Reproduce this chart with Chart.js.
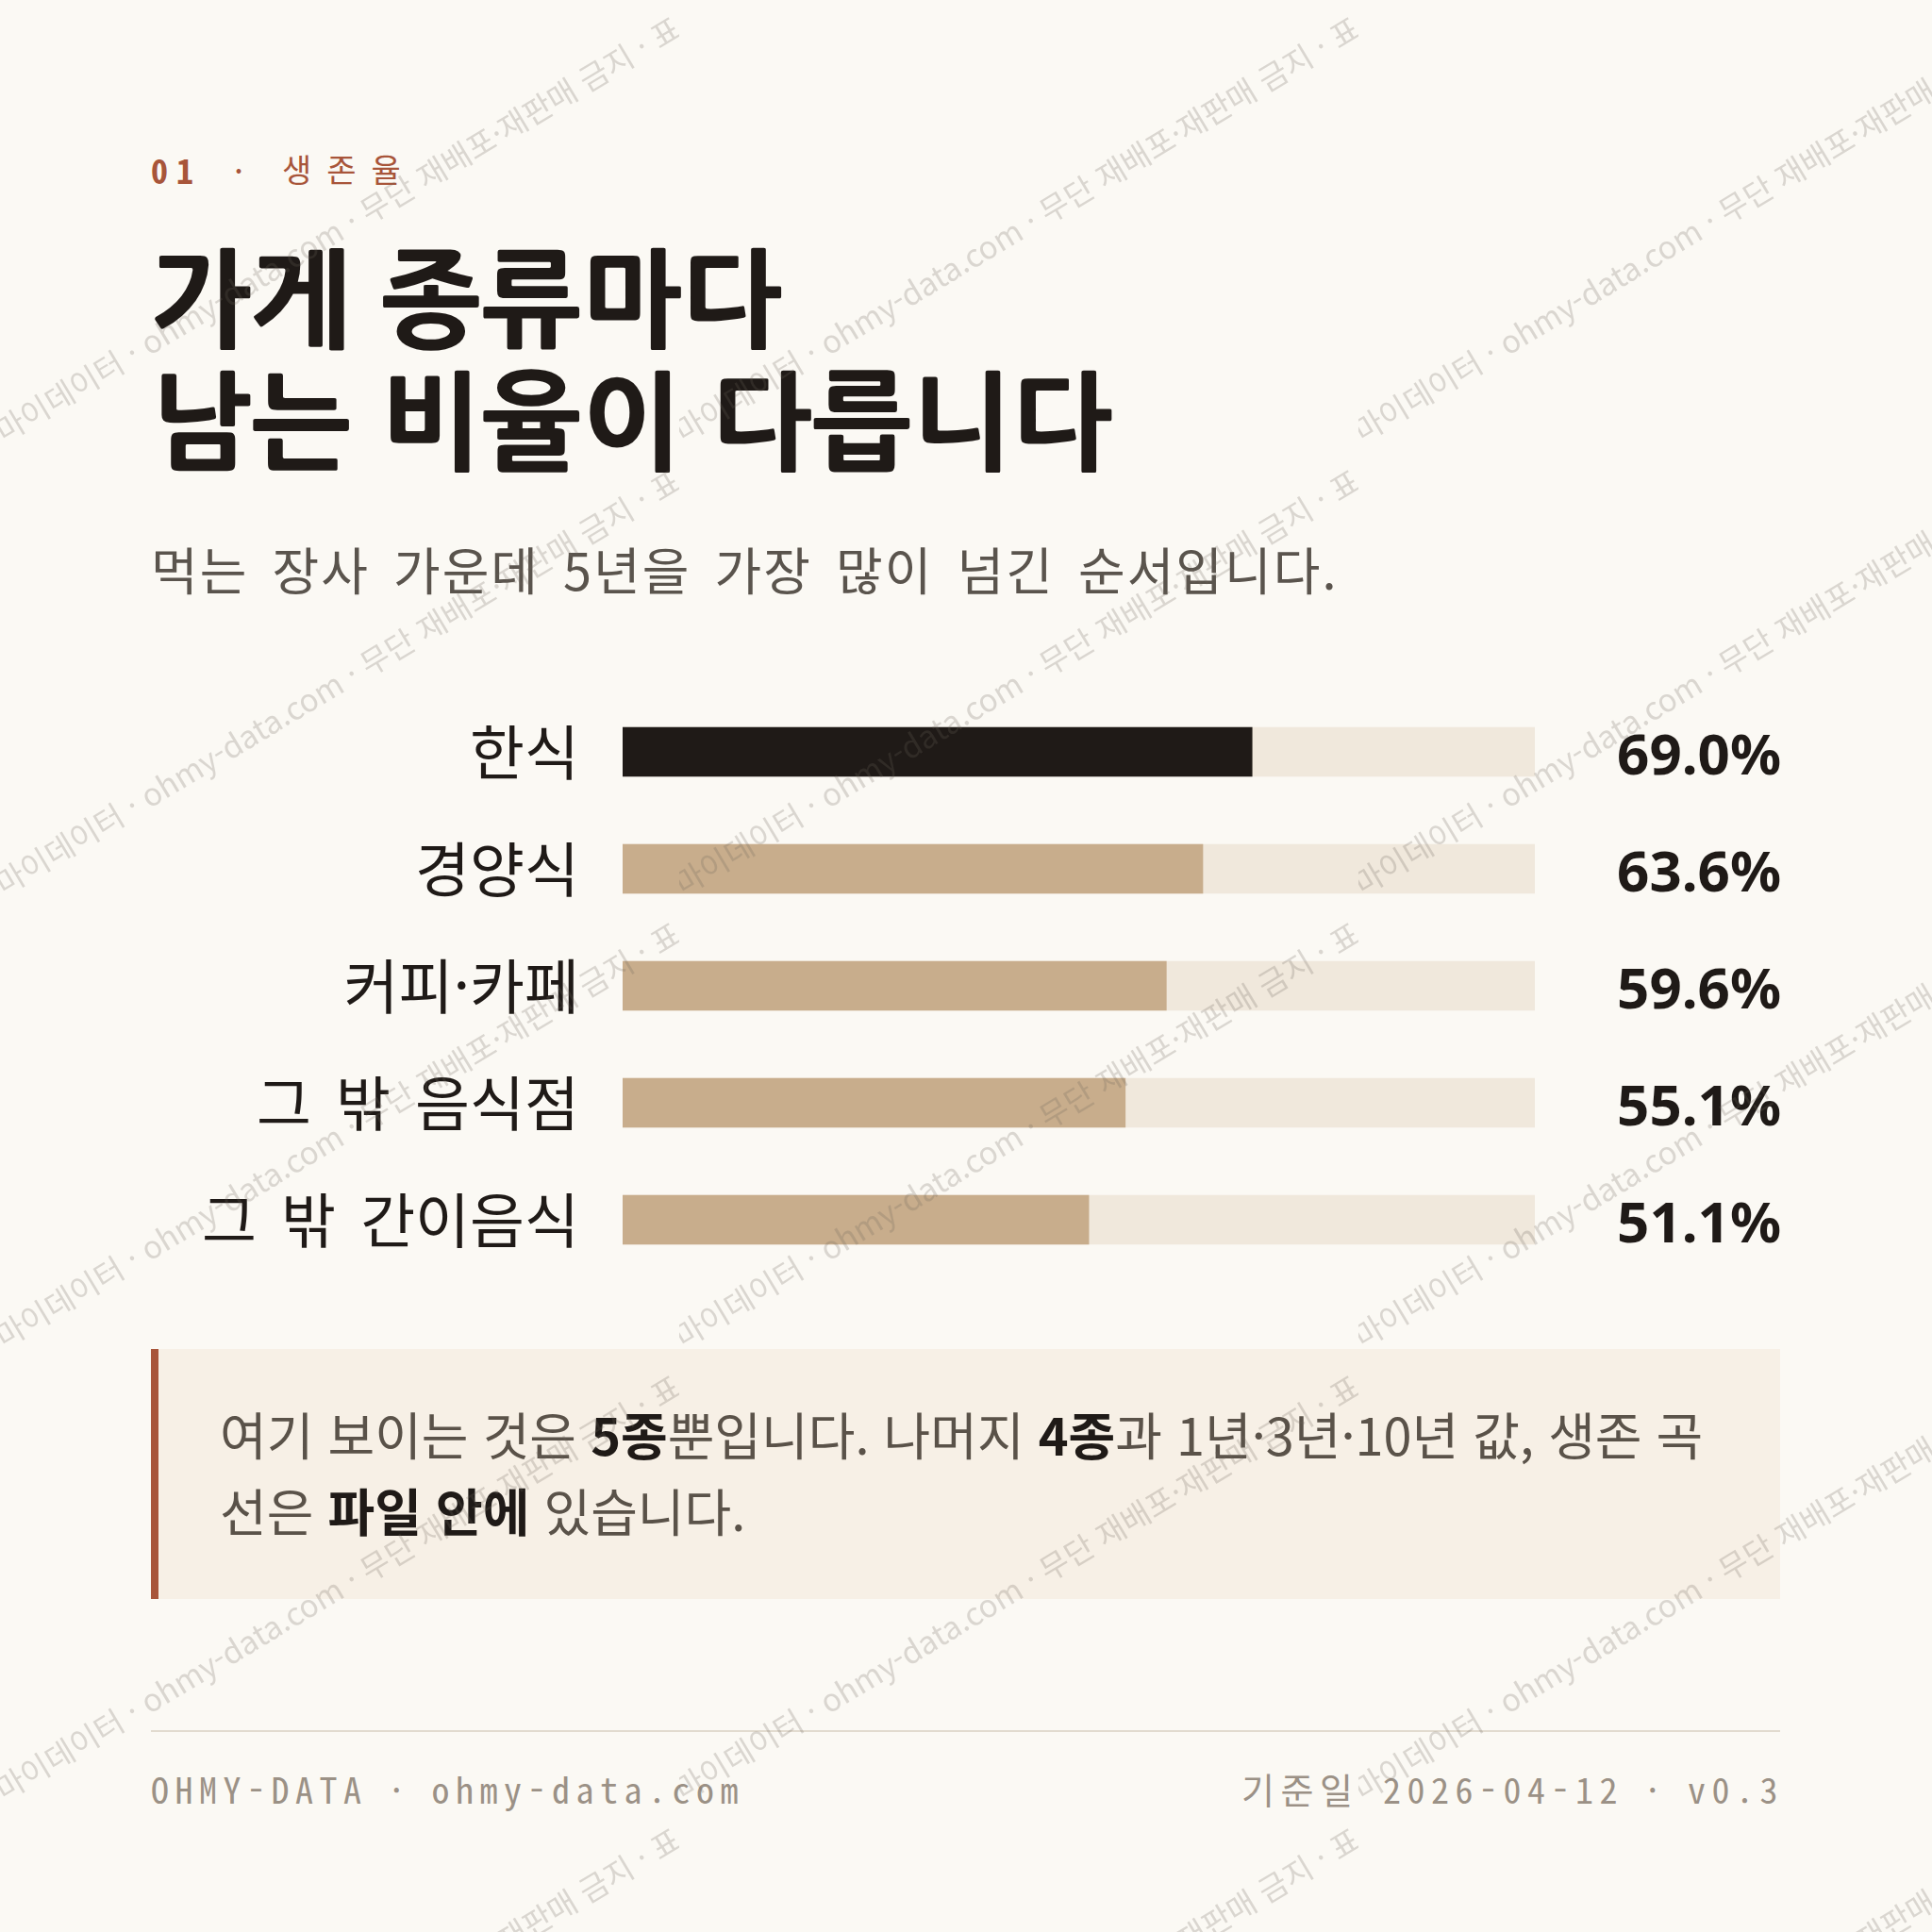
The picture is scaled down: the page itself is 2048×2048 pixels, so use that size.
<!DOCTYPE html>
<html lang="ko">
<head>
<meta charset="utf-8">
<script src="https://cdn.jsdelivr.net/npm/chart.js@4.4.1/dist/chart.umd.min.js"></script>
<style>
  html, body { margin: 0; padding: 0; }
  body { width: 2048px; height: 2048px; background: #fbf9f4; position: relative; overflow: hidden;
         font-family: "Noto Sans CJK KR", "Noto Sans", sans-serif; color: #1f1a17; }
  .abs { position: absolute; }
  #eyebrow { left: 160px; top: 158px; width: 400px; height: 42px; color: #a8553a; white-space: nowrap; }
  #eyebrow span { position: absolute; top: 0; line-height: 42px; }
  #eyebrow .num { left: 0; font-family: "Noto Sans Mono CJK KR", monospace; font-weight: 700; font-size: 36px; letter-spacing: 9px; }
  #eyebrow .dot { left: 88px; font-family: "Noto Sans Mono CJK KR", monospace; font-size: 36px; }
  #eyebrow .name { left: 139px; font-size: 34px; letter-spacing: 16px; }
  #title { left: 160px; top: 254px; font-family: "NanumGothic", "Noto Sans CJK KR", sans-serif; font-size: 113px;
           line-height: 130px; font-weight: 800; margin: 0; color: #1f1a17; white-space: nowrap; }
  #subtitle { left: 160px; top: 568px; font-size: 54px; line-height: 70px; color: #5a544d; font-weight: 400;
              letter-spacing: 2px; word-spacing: 8px; white-space: nowrap; }
  #chartBox { left: 160px; top: 735px; width: 1728px; height: 620px; }
  #note { left: 160px; top: 1430px; width: 1727px; height: 265px; box-sizing: border-box; background: #f7f0e6;
          border-left: 8px solid #a8553a; padding: 49px 0 0 65px; font-size: 54px; line-height: 81px; color: #5a5249; }
  #note b { color: #1f1a17; font-weight: 700; }
  #note .ln { white-space: nowrap; display: block; }
  #rule { left: 160px; top: 1834px; width: 1727px; height: 2px; background: #e2dbcf; }
  .foot { top: 1872px; font-family: "Noto Sans Mono CJK KR", monospace; font-size: 38px; line-height: 48px;
          letter-spacing: 6.5px; color: #9b9186; white-space: nowrap; }
  #footL { left: 160px; }
  #footR { right: 157px; }
  #wm { left: 0; top: 0; width: 2048px; height: 2048px; pointer-events: none; z-index: 10; }
  .tile { position: absolute; width: 720px; height: 480px; overflow: hidden; }
  .wmline { position: absolute; left: 360px; top: 240px; transform: rotate(-31deg); transform-origin: 0 0; }
  .wmline span { position: absolute; top: -22px; white-space: nowrap; font-size: 33px; line-height: 44px;
                 color: rgba(110,100,90,0.23); font-family: "Noto Sans CJK KR", sans-serif; }
  .wmline .l { right: 0; }
  .wmline .r { left: 0; }
</style>
</head>
<body>
  <div id="eyebrow" class="abs"><span class="num">01</span><span class="dot">·</span><span class="name">생존율</span></div>
  <h1 id="title" class="abs">가게 종류마다<br>남는 비율이 다릅니다</h1>
  <div id="subtitle" class="abs">먹는 장사 가운데 5년을 가장 많이 넘긴 순서입니다.</div>
  <div id="chartBox" class="abs"><canvas id="chart"></canvas></div>
  <div id="note" class="abs">
    <span class="ln">여기 보이는 것은 <b>5종</b>뿐입니다. 나머지 <b>4종</b>과 1년·3년·10년 값, 생존 곡</span>
    <span class="ln">선은 <b>파일 안에</b> 있습니다.</span>
  </div>
  <div id="rule" class="abs"></div>
  <div id="footL" class="abs foot">OHMY-DATA · ohmy-data.com</div>
  <div id="footR" class="abs foot">기준일 2026-04-12 · v0.3</div>
  <div id="wm" class="abs"></div>

<script>
// ---- data ----
const categories = ['한식', '경양식', '커피·카페', '그 밖 음식점', '그 밖 간이음식'];
const survival5y = [69.0, 63.6, 59.6, 55.1, 51.1];
const trackFull = [100, 100, 100, 100, 100];
const axisMin = 0;
const axisMax = 100;

// ---- watermark tiles ----
(function () {
  const wm = document.getElementById('wm');
  for (let row = 0; row < 5; row++) {
    for (let col = 0; col < 3; col++) {
      const t = document.createElement('div');
      t.className = 'tile';
      t.style.left = (col * 720) + 'px';
      t.style.top = (row * 480) + 'px';
      t.innerHTML = '<div class="wmline"><span class="l">· 마이데이터 · ohmy-data.com</span><span class="r">&nbsp;· 무단 재배포·재판매 금지 · 표</span></div>';
      wm.appendChild(t);
    }
  }
})();

// ---- chart ----
const DARK = '#1f1a17';
const TAN = '#c8ad8c';
const TRACK = '#f0e8dc';

const wordSpacingPlugin = {
  id: 'wordSpacing',
  beforeDraw(chart) { if ('wordSpacing' in chart.ctx) chart.ctx.wordSpacing = '12px'; }
};

function noPad(width) {
  return (s) => { s.width = width; s.paddingTop = 0; s.paddingBottom = 0; };
}

function build() {
  const ctx = document.getElementById('chart');
  new Chart(ctx, {
    type: 'bar',
    data: {
      labels: categories,
      datasets: [
        {
          data: survival5y,
          backgroundColor: (c) => c.dataIndex === 0 ? DARK : TAN,
          barThickness: 52,
          grouped: false,
          borderWidth: 0
        },
        {
          data: trackFull,
          backgroundColor: TRACK,
          barThickness: 52,
          grouped: false,
          borderWidth: 0
        }
      ]
    },
    options: {
      indexAxis: 'y',
      responsive: true,
      maintainAspectRatio: false,
      animation: false,
      devicePixelRatio: 1,
      layout: { padding: 0 },
      plugins: { legend: { display: false }, tooltip: { enabled: false } },
      scales: {
        x: { min: axisMin, max: axisMax, display: false },
        y: {
          position: 'left',
          grid: { display: false, drawTicks: false },
          border: { display: false },
          ticks: {
            padding: 46,
            color: '#1f1a17',
            font: { family: '"Noto Sans CJK KR", sans-serif', size: 63, weight: '400' }
          },
          afterFit: noPad(500)
        },
        y2: {
          type: 'category',
          position: 'right',
          offset: true,
          grid: { display: false, drawTicks: false },
          border: { display: false },
          ticks: {
            crossAlign: 'far',
            labelOffset: 7,
            color: '#1f1a17',
            font: { family: '"Noto Sans", sans-serif', size: 60, weight: '700' },
            callback: (v, i) => survival5y[i].toFixed(1) + '%'
          },
          afterFit: noPad(261)
        }
      }
    },
    plugins: [wordSpacingPlugin]
  });
}

Promise.all([
  document.fonts.load('400 63px "Noto Sans CJK KR"'),
  document.fonts.load('700 60px "Noto Sans"')
]).catch(() => {}).then(build);
</script>
</body>
</html>
